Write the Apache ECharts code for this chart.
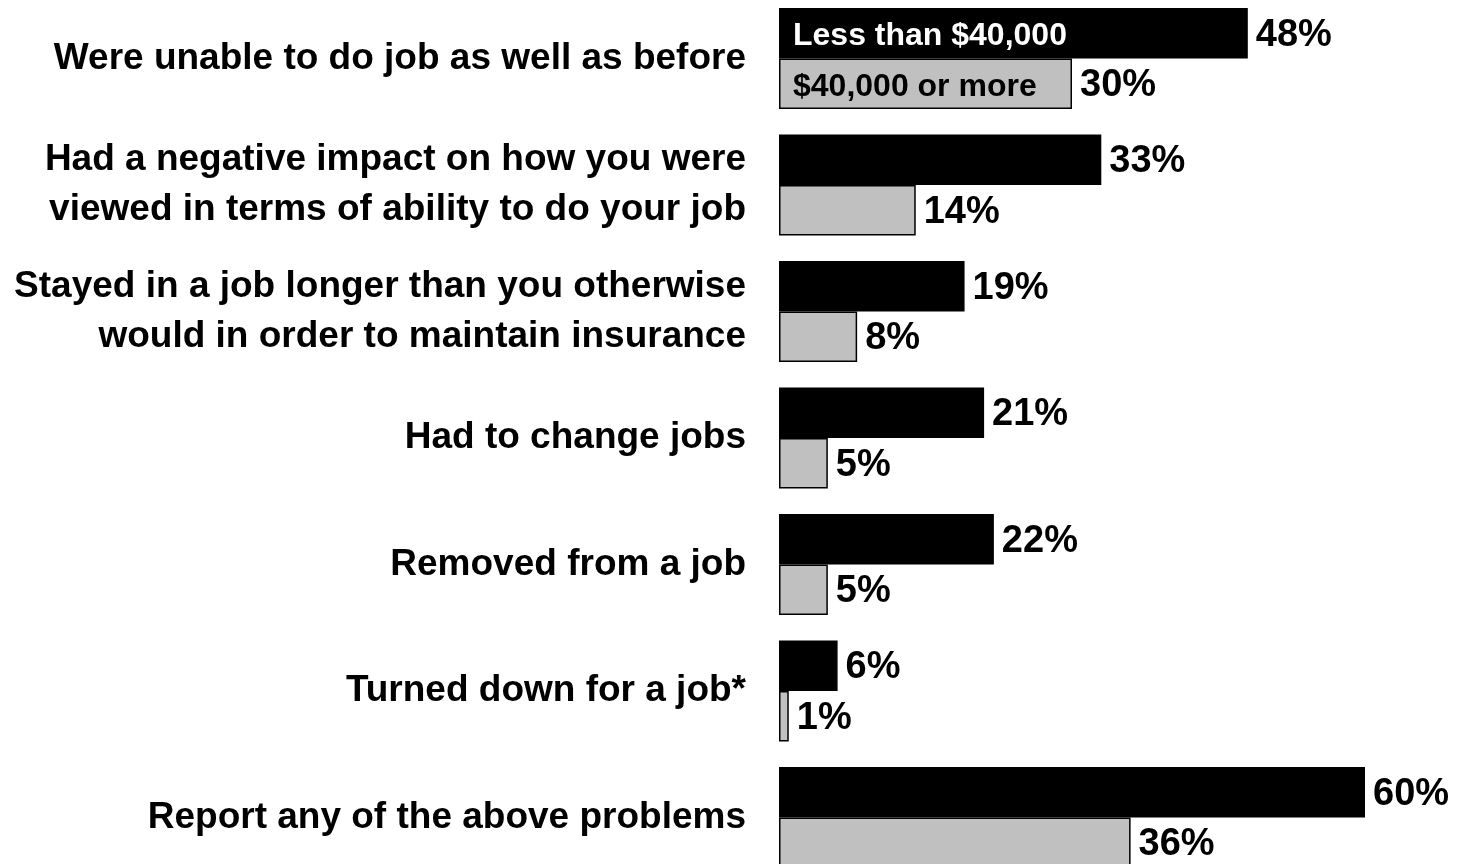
<!DOCTYPE html>
<html>
<head>
<meta charset="utf-8">
<script src="https://cdn.jsdelivr.net/npm/echarts@6/dist/echarts.min.js"></script>
<style>html,body{margin:0;padding:0;background:#fff;}#c{width:1458px;height:864px;}</style>
</head>
<body>
<div id="c"></div>
<script>
const categories = [
  "Were unable to do job as well as before",
  "Had a negative impact on how you were\nviewed in terms of ability to do your job",
  "Stayed in a job longer than you otherwise\nwould in order to maintain insurance",
  "Had to change jobs",
  "Removed from a job",
  "Turned down for a job*",
  "Report any of the above problems"
];
const seriesNames = ["Less than $40,000", "$40,000 or more"];
const lowIncome = [48, 33, 19, 21, 22, 6, 60];
const highIncome = [30, 14, 8, 5, 5, 1, 36];

const FONT = "'Liberation Sans', Arial, sans-serif";
const chart = echarts.init(document.getElementById('c'), null, {renderer: 'canvas'});

function onlyFirst(arr) { return arr.map((v, i) => i === 0 ? v : '-'); }

const valueLabel = {
  show: true, position: 'right', distance: 8, offset: [0, 2],
  formatter: p => p.value + '%',
  color: '#000', fontFamily: FONT, fontWeight: 'bold', fontSize: 38
};

chart.setOption({
  animation: false,
  backgroundColor: '#fff',
  grid: {left: 779, width: 586, top: -4.75, height: 885.5, containLabel: false, outerBoundsMode: 'none'},
  xAxis: {type: 'value', min: 0, max: 60, show: false},
  yAxis: [
    {
      type: 'category', data: categories, inverse: true,
      axisLine: {show: false}, axisTick: {show: false}, splitLine: {show: false},
      axisLabel: {
        margin: 33, align: 'right', color: '#000', fontFamily: FONT,
        fontWeight: 'bold', fontSize: 37, lineHeight: 50
      }
    },
    {
      type: 'category', data: categories, inverse: true, show: false
    }
  ],
  series: [
    {
      name: seriesNames[0], type: 'bar', yAxisIndex: 0, data: lowIncome,
      barGap: 0, barCategoryGap: '20%',
      itemStyle: {color: '#000', borderColor: '#000', borderWidth: 1.5},
      label: valueLabel
    },
    {
      name: seriesNames[1], type: 'bar', yAxisIndex: 0, data: highIncome,
      barGap: 0, barCategoryGap: '20%',
      itemStyle: {color: '#c0c0c0', borderColor: '#000', borderWidth: 1.5},
      label: valueLabel
    },
    {
      name: seriesNames[0] + ' label', type: 'bar', yAxisIndex: 1, data: onlyFirst(lowIncome),
      barGap: 0, barCategoryGap: '20%', silent: true, z: 5,
      itemStyle: {color: 'rgba(0,0,0,0)'},
      label: {
        show: true, position: 'insideLeft', distance: 14, offset: [0, 3],
        formatter: () => seriesNames[0],
        color: '#fff', fontFamily: FONT, fontWeight: 'bold', fontSize: 32
      }
    },
    {
      name: seriesNames[1] + ' label', type: 'bar', yAxisIndex: 1, data: onlyFirst(highIncome),
      barGap: 0, barCategoryGap: '20%', silent: true, z: 5,
      itemStyle: {color: 'rgba(0,0,0,0)'},
      label: {
        show: true, position: 'insideLeft', distance: 14, offset: [0, 3],
        formatter: () => seriesNames[1],
        color: '#000', fontFamily: FONT, fontWeight: 'bold', fontSize: 32
      }
    }
  ]
});
</script>
</body>
</html>
